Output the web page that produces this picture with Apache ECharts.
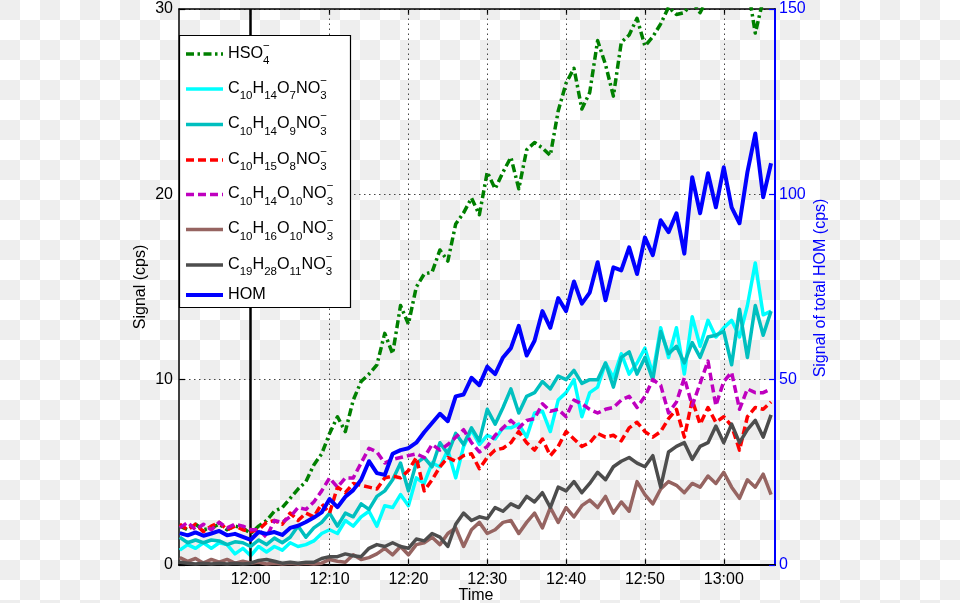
<!DOCTYPE html>
<html>
<head>
<meta charset="utf-8">
<script src="https://cdn.jsdelivr.net/npm/echarts@6/dist/echarts.min.js"></script>
<style>
html,body{margin:0;padding:0;width:960px;height:603px;overflow:hidden;background:#ffffff;}
#chart{width:960px;height:603px;}
</style>
</head>
<body>
<div id="chart"></div>
<script>
// ---------- DATA (minutes relative to 12:00) ----------
const minutes = [-9,-8,-7,-6,-5,-4,-3,-2,-1,0,1,2,3,4,5,6,7,8,9,10,11,12,13,14,15,16,17,18,19,20,21,22,23,24,25,26,27,28,29,30,31,32,33,34,35,36,37,38,39,40,41,42,43,44,45,46,47,48,49,50,51,52,53,54,55,56,57,58,59,60,61,62,63,64,65,66];
const tickMinutes = [0,10,20,30,40,50,60];
const tickLabels = ['12:00','12:10','12:20','12:30','12:40','12:50','13:00'];
const gridMinutes = [10,20,30,40,50,60];
const startMarker = [0];

const hso4 = [2.1,1.9,2.2,1.9,2.0,2.2,1.9,2.1,2.0,1.7,
  2.1,2.4,2.9,3.1,3.6,4.1,4.5,5.4,6.0,7.1,
  8.0,7.2,8.9,9.9,10.3,10.8,12.5,11.4,14.0,13.0,
  15.0,15.7,15.8,17.0,16.4,18.4,19.0,19.8,18.9,21.2,
  20.3,21.2,22.0,20.3,22.4,22.8,22.5,22.1,24.5,26.0,
  26.8,24.6,25.5,28.3,27.0,25.3,28.2,28.6,29.5,28.0,
  28.5,29.2,30.1,29.7,29.8,30.4,29.8,30.6,31.0,30.8,
  31.2,30.9,31.3,28.7,30.5,31.0];
const c10h14o7 = [0.8,1.1,0.9,1.2,0.9,1.2,1.1,0.6,0.9,0.5,
  1.0,0.7,1.0,0.8,1.2,1.0,1.1,1.3,1.7,1.9,
  1.7,2.4,2.1,2.6,2.9,2.1,3.2,3.1,3.8,3.2,
  4.7,4.4,5.5,5.3,6.2,4.7,6.4,7.3,6.5,7.0,
  6.8,7.4,7.4,7.6,6.9,8.2,8.3,7.2,8.9,9.3,
  10.0,8.0,9.3,9.6,10.9,10.1,11.4,10.3,10.9,11.7,
  10.3,12.8,11.2,12.8,10.3,13.4,11.8,13.2,12.3,12.8,
  13.2,12.3,14.0,16.3,13.5,13.7];
const c10h14o9 = [1.5,1.2,1.35,1.2,1.35,1.3,1.1,1.25,1.2,1.0,
  1.35,1.1,1.45,1.2,1.5,2.1,1.5,2.0,2.3,2.8,
  2.1,2.8,2.6,3.3,3.0,3.7,4.0,4.6,5.5,4.0,
  5.5,5.8,5.3,6.6,6.0,7.1,6.5,7.4,6.7,8.4,
  7.6,8.5,9.5,8.2,9.1,9.3,9.9,9.5,10.2,10.0,
  10.5,9.8,10.0,10.0,10.9,9.6,11.2,11.5,10.3,11.2,
  10.0,12.6,11.4,11.8,10.9,12.0,11.2,12.3,12.4,12.6,
  10.8,13.8,11.2,14.0,12.4,13.7];
const c10h15o8 = [2.2,1.9,2.2,1.8,2.1,2.3,1.9,2.1,1.9,1.8,
  1.9,2.3,2.4,2.2,2.8,2.4,2.8,2.6,3.3,2.8,
  4.2,3.9,4.4,4.3,4.2,4.1,4.7,4.8,4.7,5.1,
  5.8,4.0,4.6,5.3,5.8,5.6,5.9,6.0,5.2,5.8,
  6.2,6.3,6.6,7.2,6.6,6.2,6.8,5.9,6.4,7.2,
  6.8,6.4,6.6,7.1,6.9,7.0,6.7,7.4,7.7,7.2,
  6.9,7.2,7.9,8.4,6.9,8.9,7.6,8.5,7.7,8.0,
  7.5,6.2,8.0,8.5,8.4,8.8];
const c10h14o10 = [2.0,2.3,1.9,2.2,1.9,2.3,2.0,2.2,2.1,1.9,
  1.9,1.5,2.4,2.3,2.6,3.1,3.0,3.4,4.0,4.7,
  4.2,4.7,4.7,5.5,6.3,6.1,5.5,5.7,5.8,5.9,
  6.0,5.8,6.5,6.2,6.5,6.9,7.3,6.6,6.1,6.4,
  7.0,7.4,7.8,7.4,7.8,7.9,8.7,8.3,8.4,8.0,
  8.9,8.7,8.4,8.2,8.4,8.5,8.9,9.1,8.5,9.1,
  10.0,9.7,8.2,8.8,10.1,8.6,9.8,11.0,8.6,9.9,
  10.4,8.4,9.5,9.3,9.3,9.5];
const c10h16o10 = [0.4,0.2,0.35,0.1,0.3,0.15,0.3,0.1,0.2,0.1,
  0.15,0.05,0.1,0.05,0.1,0.05,0.1,0.05,0.1,0.3,
  0.2,0.15,0.55,0.3,0.4,0.6,0.9,0.55,1.0,0.55,
  1.1,1.2,1.5,1.1,1.7,2.0,1.0,1.9,2.3,1.7,
  1.9,2.3,2.4,1.7,2.3,2.8,2.0,3.1,2.3,3.1,
  2.6,3.2,3.5,3.1,3.7,2.8,3.4,2.9,4.5,3.8,
  3.3,4.1,4.5,4.3,3.9,4.4,4.2,4.8,4.4,5.0,
  4.2,3.6,4.6,4.2,4.9,3.8];
const c19h28o11 = [0.15,0.1,0.05,0.1,0.05,0.1,0.05,0.1,0.05,0.1,
  0.25,0.3,0.2,0.1,0.15,0.1,0.15,0.15,0.35,0.45,
  0.45,0.6,0.5,0.45,0.9,1.1,1.0,1.2,1.0,0.9,
  1.4,1.3,1.7,1.5,1.0,2.2,2.8,2.4,2.6,2.5,
  3.1,2.9,3.3,3.1,3.7,3.4,3.9,3.1,4.2,4.0,
  4.5,3.9,4.4,5.0,4.6,5.3,5.6,5.8,5.5,5.3,
  5.9,4.2,6.1,6.4,6.6,5.7,6.4,6.6,7.5,6.6,
  7.6,6.6,7.3,7.8,6.9,8.1];
const hom = [8.6,8.0,8.8,7.9,8.5,9.2,8.0,8.4,7.6,6.8,
  8.9,8.4,8.9,8.1,10.0,10.6,11.6,12.8,14.2,17.8,
  15.6,18.4,20.2,23.0,28.0,24.8,24.3,30.0,31.0,31.5,
  33.0,35.8,38.3,40.8,38.8,45.5,46.0,50.5,48.5,53.5,
  51.5,56.0,58.5,64.5,56.5,60.5,68.5,64.0,72.0,68.5,
  76.5,70.5,73.5,81.7,71.4,80.3,79.5,85.7,78.5,88.4,
  83.6,93.0,89.8,94.9,84.0,104.6,94.9,105.7,96.5,107.3,
  96.5,92.2,106.0,116.4,99.2,108.4];

const legendLabels = ['HSO_{4}^{−}','C_{10}H_{14}O_{7}NO_{3}^{−}','C_{10}H_{14}O_{9}NO_{3}^{−}',
  'C_{10}H_{15}O_{8}NO_{3}^{−}','C_{10}H_{14}O_{10}NO_{3}^{−}','C_{10}H_{16}O_{10}NO_{3}^{−}',
  'C_{19}H_{28}O_{11}NO_{3}^{−}','HOM'];
const seriesNames = ['HSO4-','C10H14O7NO3-','C10H14O9NO3-','C10H15O8NO3-','C10H14O10NO3-','C10H16O10NO3-','C19H28O11NO3-','HOM'];
const seriesValues = [hso4,c10h14o7,c10h14o9,c10h15o8,c10h14o10,c10h16o10,c19h28o11,hom];

// ---------- STYLE ----------
const FONT = '"Liberation Sans", Arial, Helvetica, sans-serif';
const styles = [
  {color:'#008000', width:3.5, dash:[8,3.5,2.5,3.5], axis:0},
  {color:'#00ffff', width:3.5, dash:'solid', axis:0},
  {color:'#00bfbf', width:3.5, dash:'solid', axis:0},
  {color:'#ff0000', width:3.5, dash:[8,4], axis:0},
  {color:'#bf00bf', width:3.5, dash:[8,4], axis:0},
  {color:'#966461', width:3.5, dash:'solid', axis:0},
  {color:'#4d4d4d', width:3.5, dash:'solid', axis:0},
  {color:'#0000ff', width:4, dash:'solid', axis:1}
];
const legendRowY = [54,89,124.5,160,194.5,229.5,265,295];

// transparency-grid backdrop (20px squares, as in the reference image)
const tile = document.createElement('canvas'); tile.width = 40; tile.height = 40;
const tctx = tile.getContext('2d');
tctx.fillStyle = '#ffffff'; tctx.fillRect(0,0,40,40);
tctx.fillStyle = '#eeeeee'; tctx.fillRect(0,0,20,20); tctx.fillRect(20,20,20,20);
document.body.style.background = 'url(' + tile.toDataURL() + ') repeat';

const chart = echarts.init(document.getElementById('chart'), null, {renderer:'canvas'});

const series = seriesValues.map((vals,i)=>({
  type:'line', name:seriesNames[i], yAxisIndex:styles[i].axis, xAxisIndex:0,
  data: minutes.map((t,k)=>[t, vals[k]]),
  showSymbol:false, symbol:'none', clip:true, z:3+i,
  lineStyle:{color:styles[i].color, width:styles[i].width, type:styles[i].dash, join:'round'},
  itemStyle:{color:styles[i].color}
}));
series.unshift({
  type:'line', data:[], xAxisIndex:0, yAxisIndex:0, z:1, silent:true,
  markLine:{silent:true, symbol:'none', animation:false, label:{show:false},
    lineStyle:{color:'#444', type:[1.5,3.5], width:1},
    data: gridMinutes.map(v=>({xAxis:v}))}
});
series.push({
  type:'line', data:[], xAxisIndex:0, yAxisIndex:0, z:30, silent:true,
  markLine:{silent:true, symbol:'none', animation:false, label:{show:false},
    lineStyle:{color:'#000', type:'solid', width:2.5},
    data: startMarker.map(v=>({xAxis:v}))}
});

// ---------- legend as graphic ----------
const meas = document.createElement('canvas').getContext('2d');
function tw(t, size){ meas.font = size+'px '+FONT; return meas.measureText(t).width; }
function parse(s){
  const toks=[]; let i=0, buf='';
  while(i<s.length){
    if(s[i]==='_' && s[i+1]==='{'){
      if(buf){toks.push({kind:'n',t:buf});buf='';}
      const e=s.indexOf('}',i); const sub=s.slice(i+2,e); i=e+1; let sup=null;
      if(s[i]==='^' && s[i+1]==='{'){const e2=s.indexOf('}',i); sup=s.slice(i+2,e2); i=e2+1;}
      toks.push({kind:'s',sub,sup});
    } else { buf+=s[i]; i++; }
  }
  if(buf) toks.push({kind:'n',t:buf});
  return toks;
}
function txt(t,x,baseline,size,color){
  return {type:'text', x:x, y:baseline-0.35*size, z:102, silent:true,
    style:{text:t, font:size+'px '+FONT, fill:color||'#000', align:'left', verticalAlign:'middle',
      textAlign:'left', textVerticalAlign:'middle'}};
}
const MAIN=16.2, SMALL=11.5;
const graphics=[];
graphics.push({type:'rect', z:-10, silent:true, shape:{x:0,y:0,width:960,height:603},
  style:{fill:{image:tile, repeat:'repeat'}}});
graphics.push({type:'rect', z:100, silent:true, shape:{x:179.5,y:35.5,width:171,height:272},
  style:{fill:'#fff', stroke:'#000', lineWidth:1.2}});
legendLabels.forEach((lab,i)=>{
  const y=legendRowY[i], st=styles[i];
  graphics.push({type:'line', z:101, silent:true, shape:{x1:186,y1:y,x2:223,y2:y},
    style:{stroke:st.color, lineWidth:st.width, lineDash: st.dash==='solid'?null:st.dash}});
  let x=228; const yb=y+5;
  parse(lab).forEach(tk=>{
    if(tk.kind==='n'){ graphics.push(txt(tk.t,x,yb,MAIN)); x+=tw(tk.t,MAIN); }
    else {
      let w=0;
      if(tk.sub){ graphics.push(txt(tk.sub,x,yb+6,SMALL)); w=tw(tk.sub,SMALL); }
      if(tk.sup){ graphics.push(txt(tk.sup,x,yb-9.5,SMALL)); w=Math.max(w,tw(tk.sup,SMALL)); }
      x+=w;
    }
  });
});
// axis titles
graphics.push({type:'text', x:141, y:287, rotation:Math.PI/2, z:50, silent:true,
  style:{text:'Signal (cps)', font:'16px '+FONT, fill:'#000', align:'center', verticalAlign:'middle', textAlign:'center', textVerticalAlign:'middle'}});
graphics.push({type:'text', x:821, y:288, rotation:Math.PI/2, z:50, silent:true,
  style:{text:'Signal of total HOM (cps)', font:'16px '+FONT, fill:'#0000ff', align:'center', verticalAlign:'middle', textAlign:'center', textVerticalAlign:'middle'}});
graphics.push({type:'text', x:476, y:596, z:50, silent:true,
  style:{text:'Time', font:'16px '+FONT, fill:'#000', align:'center', verticalAlign:'middle', textAlign:'center', textVerticalAlign:'middle'}});

const xMin=-9.1, xMax=66.5;
const option = {
  animation:false,
  backgroundColor:'transparent',
  grid:{left:179, right:185, top:9, bottom:38, containLabel:false},
  xAxis:[{
    type:'value', position:'bottom', min:xMin, max:xMax,
    axisLine:{show:true, onZero:false, lineStyle:{color:'#000', width:2}},
    axisTick:{show:true, inside:true, length:6, customValues:tickMinutes, lineStyle:{color:'#000', width:1.2}},
    axisLabel:{show:true, customValues:tickMinutes, margin:7, color:'#000', fontSize:16, fontFamily:FONT,
      formatter:(v)=>{const k=tickMinutes.indexOf(v); return k>=0?tickLabels[k]:'';}},
    splitLine:{show:false}
  },{
    type:'value', position:'top', min:xMin, max:xMax,
    axisLine:{show:true, onZero:false, lineStyle:{color:'#000', width:1.5}},
    axisTick:{show:true, inside:true, length:6, customValues:tickMinutes, lineStyle:{color:'#000', width:1.2}},
    axisLabel:{show:false}, splitLine:{show:false}
  }],
  yAxis:[{
    type:'value', position:'left', min:0, max:30, interval:10,
    axisLine:{show:true, onZero:false, lineStyle:{color:'#000', width:1.5}},
    axisTick:{show:true, inside:true, length:6, lineStyle:{color:'#000', width:1.2}},
    axisLabel:{margin:6, color:'#000', fontSize:16, fontFamily:FONT},
    splitLine:{show:true, lineStyle:{color:'#444', type:[1.5,3.5], width:1}}
  },{
    type:'value', position:'right', min:0, max:150, interval:50,
    axisLine:{show:true, onZero:false, lineStyle:{color:'#0000ff', width:2}},
    axisTick:{show:true, inside:true, length:6, lineStyle:{color:'#0000ff', width:1.2}},
    axisLabel:{margin:4, color:'#0000ff', fontSize:16, fontFamily:FONT},
    splitLine:{show:false}
  }],
  series: series,
  graphic: graphics
};
chart.setOption(option);
</script>
</body>
</html>
